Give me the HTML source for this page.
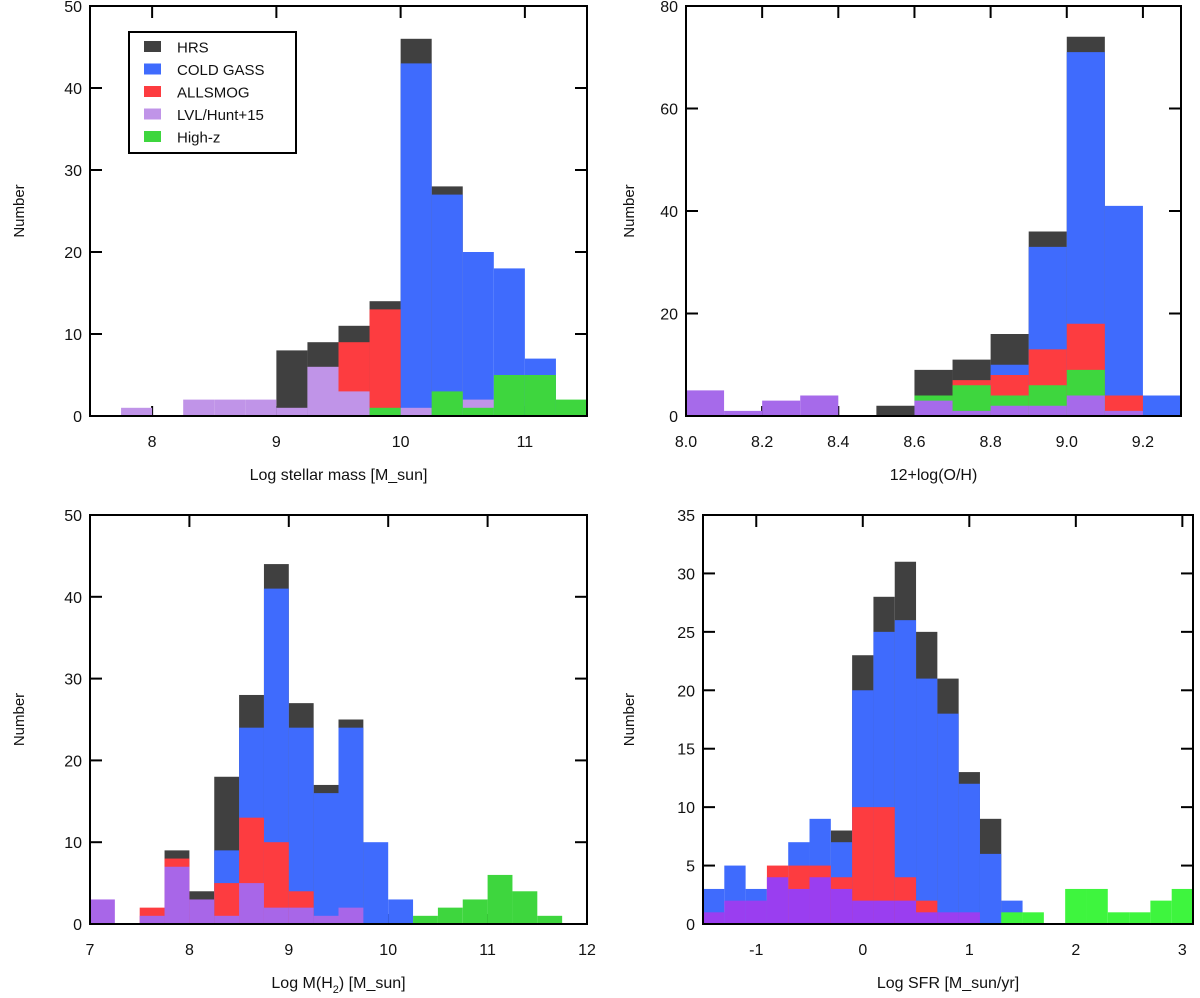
<!DOCTYPE html>
<html><head><meta charset="utf-8">
<style>
html,body{margin:0;padding:0;background:#fff;}
svg{display:block;font-family:"Liberation Sans",sans-serif;}
</style></head>
<body>
<svg id="fig" width="1200" height="998" viewBox="0 0 1200 998" xmlns="http://www.w3.org/2000/svg"></svg>
<script>
// ---- Panel 1: stellar mass ----
const massBins = [7.75,8,8.25,8.5,8.75,9,9.25,9.5,9.75,10,10.25,10.5,10.75,11,11.25];
const massHRS   = [0,0,0,0,0,8,9,11,14,46,28,0,0,0,0];
const massCOLD  = [0,0,0,0,0,0,0,0,0,43,27,20,18,7,0];
const massALL   = [0,0,0,0,0,0,0,9,13,0,0,0,0,0,0];
const massLVL   = [1,0,2,2,2,1,6,3,0,1,0,2,0,0,0];
const massHZ    = [0,0,0,0,0,0,0,0,1,0,3,1,5,5,2];
const massXTicks = [8,9,10,11];
const massYTicks = [0,10,20,30,40,50];
// ---- Panel 2: metallicity ----
const ohBins = [8.0,8.1,8.2,8.3,8.4,8.5,8.6,8.7,8.8,8.9,9.0,9.1,9.2];
const ohHRS  = [0,0,0,0,0,2,9,11,16,36,74,0,0];
const ohCOLD = [0,0,0,0,0,0,0,0,10,33,71,41,4];
const ohALL  = [0,0,0,0,0,0,0,7,8,13,18,4,0];
const ohHZ   = [0,0,0,0,0,0,4,6,4,6,9,0,0];
const ohLVL  = [5,1,3,4,0,0,3,1,2,2,4,1,0];
const ohXTicks = [8.0,8.2,8.4,8.6,8.8,9.0,9.2];
const ohYTicks = [0,20,40,60,80];
// ---- Panel 3: H2 mass ----
const h2Bins = [7,7.25,7.5,7.75,8,8.25,8.5,8.75,9,9.25,9.5,9.75,10,10.25,10.5,10.75,11,11.25,11.5];
const h2HRS  = [0,0,0,9,4,18,28,44,27,17,25,0,0,0,0,0,0,0,0];
const h2COLD = [0,0,0,0,0,9,24,41,24,16,24,10,3,0,0,0,0,0,0];
const h2ALL  = [0,0,2,8,0,5,13,10,4,0,0,0,0,0,0,0,0,0,0];
const h2LVL  = [3,0,1,7,3,1,5,2,2,1,2,0,0,0,0,0,0,0,0];
const h2HZ   = [0,0,0,0,0,0,0,0,0,0,0,0,0,1,2,3,6,4,1];
const h2XTicks = [7,8,9,10,11,12];
const h2YTicks = [0,10,20,30,40,50];
// ---- Panel 4: SFR ----
const sfrBins = [-1.5,-1.3,-1.1,-0.9,-0.7,-0.5,-0.3,-0.1,0.1,0.3,0.5,0.7,0.9,1.1,1.3,1.5,1.7,1.9,2.1,2.3,2.5,2.7,2.9];
const sfrHRS  = [0,0,0,0,0,0,8,23,28,31,25,21,13,9,0,0,0,0,0,0,0,0,0];
const sfrCOLD = [3,5,3,0,7,9,7,20,25,26,21,18,12,6,2,0,0,0,0,0,0,0,0];
const sfrALL  = [0,0,0,5,5,5,4,10,10,4,2,0,0,0,0,0,0,0,0,0,0,0,0];
const sfrLVL  = [1,2,2,4,3,4,3,2,2,2,1,1,1,0,0,0,0,0,0,0,0,0,0];
const sfrHZ   = [0,0,0,0,0,0,0,0,0,0,0,0,0,0,1,1,0,3,3,1,1,2,3];
const sfrXTicks = [-1,0,1,2,3];
const sfrYTicks = [0,5,10,15,20,25,30,35];

const NS = "http://www.w3.org/2000/svg";
const svg = document.getElementById("fig");
function mk(tag, attrs, parent){
  const e = document.createElementNS(NS, tag);
  for (const k in attrs) e.setAttribute(k, attrs[k]);
  (parent||svg).appendChild(e);
  return e;
}

function panel(cfg){
  const g = mk("g", {});
  
  
  const sx = v => cfg.x0 + (v - cfg.xmin) / (cfg.xmax - cfg.xmin) * (cfg.x1 - cfg.x0);
  const sy = v => cfg.y0 - (v - cfg.ymin) / (cfg.ymax - cfg.ymin) * (cfg.y0 - cfg.y1);
  // ticks
  cfg.yTicks.forEach(t => {
    const y = sy(t);
    const a = mk("line", {x1:cfg.x0, x2:cfg.x0+12, y1:y, y2:y, stroke:"#000","stroke-width":2}, g);
    
    
    const b = mk("line", {x1:cfg.x1-12, x2:cfg.x1, y1:y, y2:y, stroke:"#000","stroke-width":2}, g);
    
    
    const l = mk("text", {x:cfg.x0-8, y:y+6, "text-anchor":"end","font-size":16, fill:"#111"}, g);
    l.textContent = t;
    
    
  });
  cfg.xTicks.forEach(t => {
    const x = sx(t);
    const a = mk("line", {x1:x, x2:x, y1:cfg.y1, y2:cfg.y1+12, stroke:"#000","stroke-width":2}, g);
    
    
    const b = mk("line", {x1:x, x2:x, y1:cfg.y0-10, y2:cfg.y0, stroke:"#000","stroke-width":2}, g);
    
    
    const l = mk("text", {x:x, y:cfg.y0+31, "text-anchor":"middle","font-size":16, fill:"#111"}, g);
    l.textContent = cfg.xFmt ? cfg.xFmt(t) : t;
    
    
  });
  // bars
  cfg.series.forEach(s => {
    s.vals.forEach((v, i) => {
      if (v <= 0) return;
      const xa = sx(cfg.bins[i]), xb = sx(cfg.bins[i] + cfg.bw);
      const r = mk("rect", {x:xa, y:sy(v), width:xb-xa, height:sy(0)-sy(v), fill:s.color}, g);
      
      
    });
  });
  // frame
  const f = mk("rect", {x:cfg.x0, y:cfg.y1, width:cfg.x1-cfg.x0, height:cfg.y0-cfg.y1, fill:"none", stroke:"#000","stroke-width":2}, g);
  
  
  // y title
  const cy = (cfg.y0 + cfg.y1) / 2;
  const yt = mk("text", {x:cfg.ytx, y:cy, "text-anchor":"middle","font-size":15, fill:"#111", transform:`rotate(-90 ${cfg.ytx} ${cy})`}, g);
  yt.textContent = "Number";
  
  
  // x title
  const xt = mk("text", {x:(cfg.x0+cfg.x1)/2, y:cfg.y0+64, "text-anchor":"middle","font-size":16, fill:"#111"}, g);
  xt.innerHTML = cfg.xTitle;
  
  
  return g;
}

const C = {hrs:"#404040", cold:"#3f6bfd", all:"#fd3c40"};

panel({name:"stellar-mass-panel", x0:90, x1:587, y0:416, y1:6, xmin:7.5, xmax:11.5, ymin:0, ymax:50, bw:0.25,
  bins:massBins, xTicks:massXTicks, yTicks:massYTicks, ytx:24, xTitle:"Log stellar mass [M_sun]",
  series:[{key:"hrs",vals:massHRS,color:C.hrs},{key:"cold-gass",vals:massCOLD,color:C.cold},
          {key:"allsmog",vals:massALL,color:C.all},{key:"lvl",vals:massLVL,color:"#c094e8"},
          {key:"high-z",vals:massHZ,color:"#3ed63e"}]});

panel({name:"metallicity-panel", x0:686, x1:1181, y0:416, y1:6, xmin:8.0, xmax:9.3, ymin:0, ymax:80, bw:0.1,
  bins:ohBins, xTicks:ohXTicks, yTicks:ohYTicks, ytx:634, xTitle:"12+log(O/H)", xFmt:t=>t.toFixed(1),
  series:[{key:"hrs",vals:ohHRS,color:C.hrs},{key:"cold-gass",vals:ohCOLD,color:C.cold},
          {key:"allsmog",vals:ohALL,color:C.all},{key:"high-z",vals:ohHZ,color:"#3ed63e"},
          {key:"lvl",vals:ohLVL,color:"#a66aea"}]});

panel({name:"h2-mass-panel", x0:90, x1:587, y0:924, y1:515, xmin:7, xmax:12, ymin:0, ymax:50, bw:0.25,
  bins:h2Bins, xTicks:h2XTicks, yTicks:h2YTicks, ytx:24, xTitle:'Log M(H<tspan font-size="11" dy="5">2</tspan><tspan dy="-5">) [M_sun]</tspan>',
  series:[{key:"hrs",vals:h2HRS,color:C.hrs},{key:"cold-gass",vals:h2COLD,color:C.cold},
          {key:"allsmog",vals:h2ALL,color:C.all},{key:"lvl",vals:h2LVL,color:"#a866e8"},
          {key:"high-z",vals:h2HZ,color:"#3ed63e"}]});

panel({name:"sfr-panel", x0:703, x1:1193, y0:924, y1:515, xmin:-1.5, xmax:3.1, ymin:0, ymax:35, bw:0.2,
  bins:sfrBins, xTicks:sfrXTicks, yTicks:sfrYTicks, ytx:634, xTitle:"Log SFR [M_sun/yr]",
  series:[{key:"hrs",vals:sfrHRS,color:C.hrs},{key:"cold-gass",vals:sfrCOLD,color:C.cold},
          {key:"allsmog",vals:sfrALL,color:C.all},{key:"lvl",vals:sfrLVL,color:"#9a3ef0"},
          {key:"high-z",vals:sfrHZ,color:"#3ef53e"}]});

// legend
const legendItems = ["HRS","COLD GASS","ALLSMOG","LVL/Hunt+15","High-z"];
const legendColors = ["#404040","#3f6bfd","#fd3c40","#c094e8","#3ed63e"];
const lg = mk("g", {});


const lb = mk("rect", {x:129, y:32, width:167, height:121, fill:"#fff", stroke:"#000", "stroke-width":2}, lg);


legendItems.forEach((name, i) => {
  const y = 47 + i * 22.5;
  const sw = mk("rect", {x:144, y:y-6, width:17, height:11, fill:legendColors[i]}, lg);
  
  
  const t = mk("text", {x:177, y:y+5.5, "font-size":15, fill:"#111"}, lg);
  t.textContent = name;
  
  
});
</script>
</body></html>
